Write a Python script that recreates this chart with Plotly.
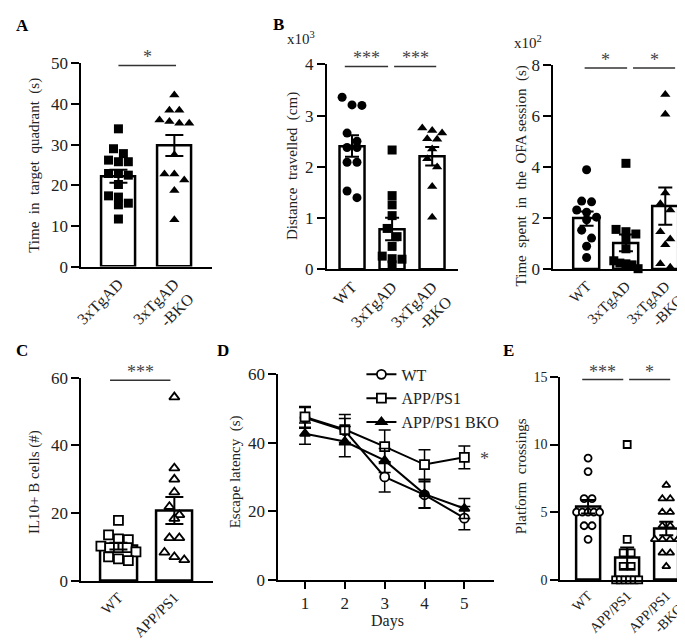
import plotly.graph_objects as go

W, H = 685, 641
FONT = "Liberation Serif"
SP = "\u00a0\u00a0"

# ---------------- data ----------------
# Panel A: time in target quadrant (s)
a_groups = ["3xTgAD", "3xTgAD<br>-BKO"]
a_tg = [33.9, 29.0, 27.8, 26.2, 25.8, 25.8, 22.9, 22.9, 22.5, 20.2, 17.4, 17.1, 15.6, 15.2, 11.7]
a_bko = [42.2, 38.5, 38.5, 36.1, 35.7, 35.3, 35.3, 27.5, 22.8, 22.8, 21.3, 18.7, 11.5]
a_mean = [22.2, 29.8]
a_sem = [1.6, 2.6]

# Panel B: distance travelled (x10^3 cm)
b_groups = ["WT", "3xTgAD", "3xTgAD<br>-BKO"]
b_wt = [3.36, 3.21, 3.20, 2.66, 2.50, 2.38, 2.38, 2.09, 2.09, 1.53, 1.40]
b_tg = [2.33, 1.44, 1.26, 1.05, 0.80, 0.64, 0.45, 0.26, 0.21, 0.20, 0.09]
b_bko = [2.76, 2.71, 2.66, 2.55, 2.54, 2.35, 2.16, 2.00, 1.62, 1.02]
b_mean = [2.41, 0.79, 2.21]
b_sem = [0.21, 0.22, 0.18]

# Panel B (right): time spent in OFA session (x10^2 s)
o_wt = [3.91, 2.68, 2.65, 2.33, 2.24, 2.05, 1.95, 1.54, 1.23, 0.91, 0.47]
o_tg = [4.16, 1.57, 1.48, 1.39, 1.16, 0.81, 0.34, 0.25, 0.22, 0.18, 0.03]
o_bko = [6.86, 6.08, 3.00, 2.58, 2.33, 1.48, 1.19, 0.97, 0.22, 0.09]
o_mean = [1.99, 1.04, 2.48]
o_sem = [0.28, 0.33, 0.73]

# Panel C: IL10+ B cells (#)
c_groups = ["WT", "APP/PS1"]
c_wt = [17.9, 13.6, 12.4, 12.2, 10.3, 9.8, 9.8, 9.8, 8.6, 7.1, 6.5, 6.0]
c_app = [54.3, 33.3, 30.0, 26.2, 21.9, 19.5, 18.4, 12.7, 12.7, 8.4, 7.1, 6.2]
c_mean = [10.3, 20.8]
c_sem = [1.0, 4.0]

# Panel D: escape latency (s)
d_days = [1, 2, 3, 4, 5]
d_names = ["WT", "APP/PS1", "APP/PS1 BKO"]
d_wt = [47.2, 43.5, 30.0, 24.8, 18.0]
d_app = [47.5, 43.8, 38.8, 33.6, 35.7]
d_bko = [42.6, 40.3, 34.8, 25.0, 20.8]
d_wt_sem = [3.0, 3.5, 4.4, 3.8, 3.4]
d_app_sem = [3.0, 4.4, 4.9, 4.3, 3.3]
d_bko_sem = [3.1, 4.4, 3.5, 4.1, 2.9]

# Panel E: platform crossings
e_groups = ["WT", "APP/PS1", "APP/PS1<br>-BKO"]
e_wt = [9, 8, 6, 6, 5, 5, 5, 5, 5, 4, 4, 3]
e_app = [10, 3, 2, 2, 1, 1, 0, 0, 0, 0, 0, 0]
e_bko = [7, 6, 6, 5, 5, 4, 4, 3, 3, 3, 3, 2, 2, 1]
e_mean = [5.4, 1.6, 3.8]
e_sem = [0.5, 0.8, 0.5]

# ---------------- layout helpers ----------------
fig = go.Figure()
layout = dict(width=W, height=H, margin=dict(l=0, r=0, t=0, b=0),
              plot_bgcolor="white", paper_bgcolor="white",
              font=dict(family=FONT, color="black"), showlegend=True,
              bargap=0)
annotations = []
shapes = []


def xd(px0, px1):
    return [px0 / W, px1 / W]


def yd(py0, py1):
    return [1 - py1 / H, 1 - py0 / H]


def axis_y(dom, rng, dtick, size=17):
    return dict(domain=dom, range=rng, dtick=dtick, showline=True, linecolor="black",
                linewidth=2, ticks="outside", ticklen=8, tickwidth=2, tickcolor="black",
                showgrid=False, zeroline=False, tickfont=dict(family=FONT, size=size, color="#222"),
                fixedrange=True)


def axis_xcat(dom, rng, labels, size=16):
    return dict(domain=dom, range=rng, showline=True, linecolor="black", linewidth=2,
                ticks="", showgrid=False, zeroline=False,
                tickvals=list(range(len(labels))), ticktext=labels, tickangle=-45,
                tickfont=dict(family=FONT, size=size, color="#222"), fixedrange=True)


def swarm(vals, center, ppu_y, ppu_x, size, maxw):
    order = sorted(range(len(vals)), key=lambda i: -vals[i])
    rows = []
    for i in order:
        if rows and (vals[rows[-1][0]] - vals[i]) * ppu_y < size * 0.9:
            rows[-1].append(i)
        else:
            rows.append([i])
    xs = [0.0] * len(vals)
    for r in rows:
        m = len(r)
        step = size if m < 2 else min(size, maxw / (m - 1))
        for j, i in enumerate(r):
            xs[i] = center + (j - (m - 1) / 2) * step / ppu_x
    return xs


def bar_panel(k, groups_vals, means, sems, symbols, spacing_px, ppu_y, barw, capw, msize):
    xa = "x" if k == 1 else "x%d" % k
    ya = "y" if k == 1 else "y%d" % k
    n = len(means)
    fig.add_trace(go.Bar(x=list(range(n)), y=means, width=barw, xaxis=xa, yaxis=ya,
                         marker=dict(color="white", line=dict(color="black", width=2.5)),
                         showlegend=False, hoverinfo="skip"))
    for gi, (vals, sym) in enumerate(zip(groups_vals, symbols)):
        xs = swarm(vals, gi, ppu_y, spacing_px, msize + 1, barw * spacing_px * 0.95)
        openm = sym.endswith("-open")
        fig.add_trace(go.Scatter(x=xs, y=vals, mode="markers", xaxis=xa, yaxis=ya,
                                 marker=dict(symbol=sym.replace("-open", ""), size=msize,
                                             color="white" if openm else "black",
                                             line=dict(color="black", width=1.8 if openm else 0)),
                                 showlegend=False, hoverinfo="skip", cliponaxis=False))
    fig.add_trace(go.Scatter(x=list(range(n)), y=means, mode="markers", xaxis=xa, yaxis=ya,
                             marker=dict(size=1, color="rgba(0,0,0,0)"),
                             error_y=dict(type="data", array=sems, color="black", thickness=2, width=capw),
                             showlegend=False, hoverinfo="skip"))


def sig(k, x0, x1, y, text, size=18):
    xa = "x" if k == 1 else "x%d" % k
    ya = "y" if k == 1 else "y%d" % k
    shapes.append(dict(type="line", xref=xa, yref=ya, x0=x0, x1=x1, y0=y, y1=y,
                       line=dict(color="#333", width=1.5)))
    annotations.append(dict(xref=xa, yref=ya, x=(x0 + x1) / 2, y=y, text=text, showarrow=False,
                            yanchor="bottom", yshift=-4, font=dict(family=FONT, size=size, color="#444")))


def vtitle(x, y, text, size=15):
    annotations.append(dict(xref="paper", yref="paper", x=x / W, y=1 - y / H, text=text,
                            textangle=-90, showarrow=False, xanchor="center", yanchor="middle",
                            font=dict(family=FONT, size=size, color="#222")))


def label(x, y, text, size=17):
    annotations.append(dict(xref="paper", yref="paper", x=x / W, y=1 - y / H,
                            text="<b>%s</b>" % text, showarrow=False,
                            xanchor="center", yanchor="middle",
                            font=dict(family=FONT, size=size, color="black")))


# ---------------- Panel A ----------------
spA = 56.5
layout["xaxis"] = axis_xcat(xd(67, 199), [-37.5 / spA, 1 + 38 / spA], a_groups)
layout["yaxis"] = axis_y(yd(48, 258), [0, 50], 10)
bar_panel(1, [a_tg, a_bko], a_mean, a_sem, ["square", "triangle-up"], spA, 210 / 50, 0.62, 9, 9)
sig(1, 0, 1.03, 49.5, "*")

# ---------------- Panel B ----------------
spB = 40.5
layout["xaxis2"] = axis_xcat(xd(315, 448), [-25.5 / spB, 2 + 26.5 / spB], b_groups)
layout["yaxis2"] = axis_y(yd(49, 261), [0, 4], 1)
layout["xaxis2"]["anchor"] = "y2"
layout["yaxis2"]["anchor"] = "x2"
bar_panel(2, [b_wt, b_tg, b_bko], b_mean, b_sem, ["circle", "square", "triangle-up"], spB, 212 / 4, 0.62, 7, 9)
sig(2, -0.18, 0.9, 3.96, "***")
sig(2, 1.05, 2.1, 3.96, "***")

# ---------------- Panel B right ----------------
spO = 39.75
layout["xaxis3"] = axis_xcat(xd(544, 684), [-33.5 / spO, 2 + 27 / spO], b_groups, size=15)
layout["yaxis3"] = axis_y(yd(50, 261), [0, 8], 2)
layout["xaxis3"]["anchor"] = "y3"
layout["yaxis3"]["anchor"] = "x3"
bar_panel(3, [o_wt, o_tg, o_bko], o_mean, o_sem, ["circle", "square", "triangle-up"], spO, 211 / 8, 0.65, 7, 9)
sig(3, -0.05, 1.03, 7.9, "*")
sig(3, 1.18, 2.25, 7.9, "*")

# ---------------- Panel C ----------------
spC = 56.5
layout["xaxis4"] = axis_xcat(xd(67, 200), [-37.5 / spC, 1 + 39 / spC], c_groups, size=15)
layout["yaxis4"] = axis_y(yd(373, 583), [0, 60], 20)
layout["xaxis4"]["anchor"] = "y4"
layout["yaxis4"]["anchor"] = "x4"
bar_panel(4, [c_wt, c_app], c_mean, c_sem, ["square-open", "triangle-up-open"], spC, 210 / 60, 0.66, 9, 9)
sig(4, -0.15, 0.93, 59.3, "***")

# ---------------- Panel D ----------------
layout["xaxis5"] = dict(domain=xd(266, 484), range=[1 - 27 / 40.25, 5 + 30 / 40.25], anchor="y5",
                        showline=True, linecolor="black", linewidth=2, ticks="outside", ticklen=7,
                        tickwidth=2, tickcolor="black", tickvals=d_days, showgrid=False, zeroline=False,
                        tickfont=dict(family=FONT, size=17, color="#222"), fixedrange=True)
layout["yaxis5"] = axis_y(yd(369, 582), [0, 60], 20)
layout["yaxis5"]["anchor"] = "x5"
d_series = [(d_wt, d_wt_sem, "circle", "white"), (d_app, d_app_sem, "square", "white"),
            (d_bko, d_bko_sem, "triangle-up", "black")]
for name, (vals, sem, sym, fill) in zip(d_names, d_series):
    fig.add_trace(go.Scatter(x=d_days, y=vals, mode="lines+markers", name=name, xaxis="x5", yaxis="y5",
                             line=dict(color="black", width=2),
                             marker=dict(symbol=sym, size=9, color=fill, line=dict(color="black", width=1.8)),
                             error_y=dict(type="data", array=sem, color="black", thickness=1.5, width=6),
                             hoverinfo="skip", cliponaxis=False))
annotations.append(dict(xref="x5", yref="y5", x=5, y=d_app[4], text="*", showarrow=False, xshift=20,
                        yshift=-2, font=dict(family=FONT, size=18, color="#444")))
annotations.append(dict(xref="paper", yref="paper", x=376 / W, y=1 - 624 / H, text="Days", showarrow=False,
                        xanchor="center", yanchor="middle", font=dict(family=FONT, size=16, color="#222")))
layout["legend"] = dict(x=350 / W, y=1 - 352 / H, xanchor="left", yanchor="top", bgcolor="rgba(0,0,0,0)",
                        font=dict(family=FONT, size=16, color="#222"), tracegroupgap=0,
                        itemwidth=30, borderwidth=0)

# ---------------- Panel E ----------------
spE = 39.5
layout["xaxis6"] = axis_xcat(xd(551, 685), [-28 / spE, 2 + 27 / spE], e_groups, size=14)
layout["yaxis6"] = axis_y(yd(372, 582), [0, 15], 5, size=14)
layout["xaxis6"]["anchor"] = "y6"
layout["yaxis6"]["anchor"] = "x6"
bar_panel(6, [e_wt, e_app, e_bko], e_mean, e_sem, ["circle-open", "square-open", "triangle-up-open"],
          spE, 210 / 15, 0.62, 7, 7)
sig(6, -0.15, 0.9, 14.8, "***")
sig(6, 1.05, 2.1, 14.8, "*")

# ---------------- titles / labels ----------------
vtitle(20, 153, SP.join(["Time", "in", "target", "quadrant", "(s)"]))
vtitle(281, 154, SP.join(["Distance", "travelled", "(cm)"]))
vtitle(512, 164, SP.join(["Time", "spent", "in", "the", "OFA session", "(s)"]))
vtitle(19, 481, "IL10+ B cells (#)")
vtitle(223, 470, "Escape latency" + SP + "(s)")
vtitle(512, 475, SP.join(["Platform", "crossings"]))

label(8, 9, "A")
label(266, 8, "B")
label(7, 345, "C")
label(210, 345, "D")
label(499, 345, "E")
annotations.append(dict(xref="paper", yref="paper", x=305 / W, y=1 - 22 / H, text="x10<sup>3</sup>",
                        showarrow=False, xanchor="right", yanchor="middle",
                        font=dict(family=FONT, size=15, color="#222")))
annotations.append(dict(xref="paper", yref="paper", x=534 / W, y=1 - 26 / H, text="x10<sup>2</sup>",
                        showarrow=False, xanchor="right", yanchor="middle",
                        font=dict(family=FONT, size=15, color="#222")))

layout["annotations"] = annotations
layout["shapes"] = shapes
fig.update_layout(**layout)
fig.write_html("out.html")
